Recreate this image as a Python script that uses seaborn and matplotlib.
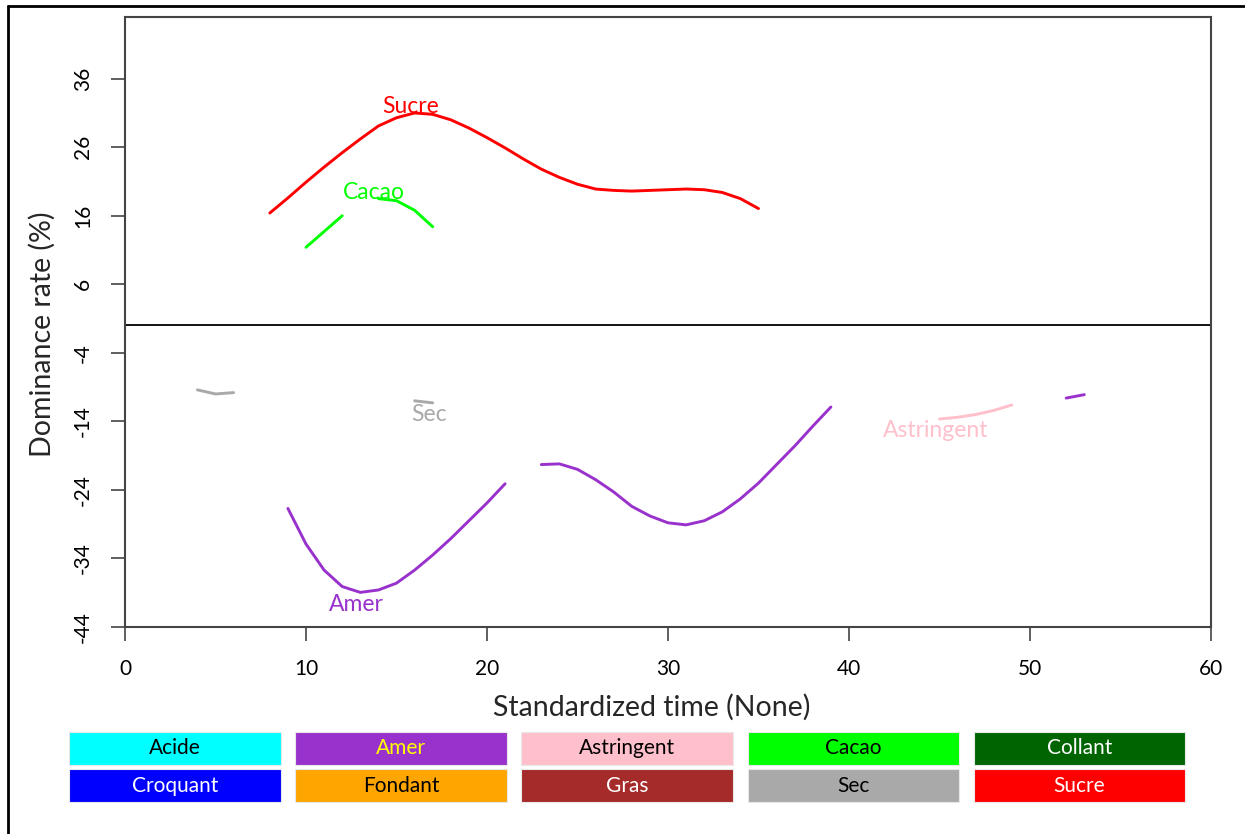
import numpy as np
import pandas as pd
import matplotlib
matplotlib.use("Agg")
import matplotlib.pyplot as plt
from matplotlib.patches import Rectangle
from matplotlib.lines import Line2D
import seaborn as sns

# Dominance rate curves (only the significant stretches are kept)
sucre_time = list(range(8, 36))
sucre_rate = [16.4, 18.6, 20.9, 23.1, 25.2, 27.2, 29.1, 30.3, 31.0, 30.8,
              30.0, 28.8, 27.4, 25.9, 24.3, 22.8, 21.6, 20.6, 19.9, 19.7,
              19.6, 19.7, 19.8, 19.9, 19.8, 19.4, 18.5, 17.05]

cacao_time = [10, 11, 12, 14, 15, 16, 17]
cacao_rate = [11.4, 13.7, 16.0, 18.5, 18.2, 16.8, 14.4]

amer_time = list(range(9, 22)) + list(range(23, 40)) + [52, 53]
amer_rate = [-26.7, -31.9, -35.7, -38.1, -38.95, -38.6, -37.6, -35.7, -33.5,
             -31.1, -28.5, -25.9, -23.1,
             -20.3, -20.2, -21.0, -22.5, -24.3, -26.4, -27.8, -28.8, -29.1,
             -28.5, -27.2, -25.3, -23.0, -20.3, -17.6, -14.7, -11.9,
             -10.6, -10.1]

sec_time = [4, 5, 6, 16, 17]
sec_rate = [-9.4, -10.0, -9.8, -11.0, -11.3]

astringent_time = [45, 46, 47, 48, 49]
astringent_rate = [-13.65, -13.4, -13.0, -12.4, -11.6]

# Attribute colours and legend layout
attributes = ["Acide", "Amer", "Astringent", "Cacao", "Collant",
              "Croquant", "Fondant", "Gras", "Sec", "Sucre"]
attribute_colors = ["#00FFFF", "#9932CC", "#FFC0CB", "#00FF00", "#006400",
                    "#0000FF", "#FFA500", "#A52A2A", "#A9A9A9", "#FF0000"]
legend_text_colors = ["black", "#FFFF00", "black", "black", "white",
                      "white", "black", "white", "black", "white"]

y_ticks = [36, 26, 16, 6, -4, -14, -24, -34, -44]
x_ticks = [0, 10, 20, 30, 40, 50, 60]

curves = {
    "Sucre": (sucre_time, sucre_rate),
    "Cacao": (cacao_time, cacao_rate),
    "Amer": (amer_time, amer_rate),
    "Sec": (sec_time, sec_rate),
    "Astringent": (astringent_time, astringent_rate),
}

rows = []
for name, (t, r) in curves.items():
    t = np.asarray(t)
    seg = np.concatenate([[0], np.cumsum(np.diff(t) > 1)])
    for ti, ri, si in zip(t, r, seg):
        rows.append({"time": ti, "rate": ri, "attribute": name,
                     "segment": f"{name}-{si}"})
df = pd.DataFrame(rows)
palette = dict(zip(attributes, attribute_colors))

sns.set_theme(style="white")
plt.rcParams["font.family"] = ["Lato", "DejaVu Sans"]
plt.rcParams["axes.unicode_minus"] = False

W, H = 1245, 834
fig = plt.figure(figsize=(W / 100, H / 100), dpi=100)
ax = fig.add_axes([125 / W, 1 - 627 / H, (1211 - 125) / W, (627 - 17) / H])

sns.lineplot(data=df, x="time", y="rate", hue="attribute", units="segment",
             estimator=None, sort=False, palette=palette, legend=False,
             linewidth=2.1, ax=ax)

# Curve names at their extreme value
for name, (t, r) in curves.items():
    r = np.asarray(r)
    k = int(np.argmax(np.abs(r)))
    if r[k] > 0:
        ax.annotate(name, (t[k], r[k]), xytext=(-3, 0),
                    textcoords="offset points", color=palette[name],
                    fontsize=16.5, ha="center", va="baseline", zorder=5)
    else:
        ax.annotate(name, (t[k], r[k]), xytext=(-3, -1),
                    textcoords="offset points", color=palette[name],
                    fontsize=16.5, ha="center", va="top", zorder=5)

ax.axhline(0, color="black", linewidth=1.3)

ax.set_xlim(0, 60)
ax.set_ylim(-44, 45)
ax.set_xticks(x_ticks)
ax.set_yticks(y_ticks)
ax.set_xticklabels([str(v) for v in x_ticks])
ax.set_yticklabels([str(v) for v in y_ticks], rotation=90, va="center")
ax.tick_params(axis="both", direction="out", length=10, width=1.2,
               color="#444444", labelsize=15, labelcolor="black",
               bottom=True, left=True)
ax.tick_params(axis="x", pad=13)
ax.tick_params(axis="y", pad=13)
for side in ["left", "bottom", "top", "right"]:
    ax.spines[side].set_visible(True)
    ax.spines[side].set_linewidth(1.5)
    ax.spines[side].set_color("#444444")
ax.set_xlabel("Standardized time (None)", fontsize=20.5)
ax.set_ylabel("Dominance rate (%)", fontsize=20.5)
ax.xaxis.set_label_coords((652 - 125) / 1086, -(707 - 627) / 610,
                          transform=ax.transAxes)
ax.xaxis.label.set_va("center")
ax.yaxis.set_label_coords(-(125 - 42) / 1086, (627 - 334) / 610,
                          transform=ax.transAxes)
ax.yaxis.label.set_va("center")

# Colour key below the plot
leg = fig.add_axes([0, 0, 1, 1], zorder=-1)
leg.set_xlim(0, W)
leg.set_ylim(H, 0)
leg.axis("off")
box_w, box_h = 211.5, 33
x0, dx = 69, 226.2
row_y = [731.7, 769.3]
for i, (name, col, tcol) in enumerate(zip(attributes, attribute_colors,
                                          legend_text_colors)):
    r, c = divmod(i, 5)
    bx, by = x0 + c * dx, row_y[r]
    leg.add_patch(Rectangle((bx, by), box_w, box_h, facecolor=col,
                            edgecolor="#e8e8e8", linewidth=0.8))
    leg.text(bx + box_w / 2, by + box_h / 2, name, color=tcol,
             fontsize=15, ha="center", va="center")

# Outer frame (left and top edges)
fig.add_artist(Line2D([7.5 / W, 7.5 / W], [0, 1 - 6 / H], color="black",
                      linewidth=2.0, transform=fig.transFigure))
fig.add_artist(Line2D([7.5 / W, 1], [1 - 6 / H, 1 - 6 / H], color="black",
                      linewidth=2.0, transform=fig.transFigure))

fig.savefig("out.png", dpi=100, facecolor="white")
